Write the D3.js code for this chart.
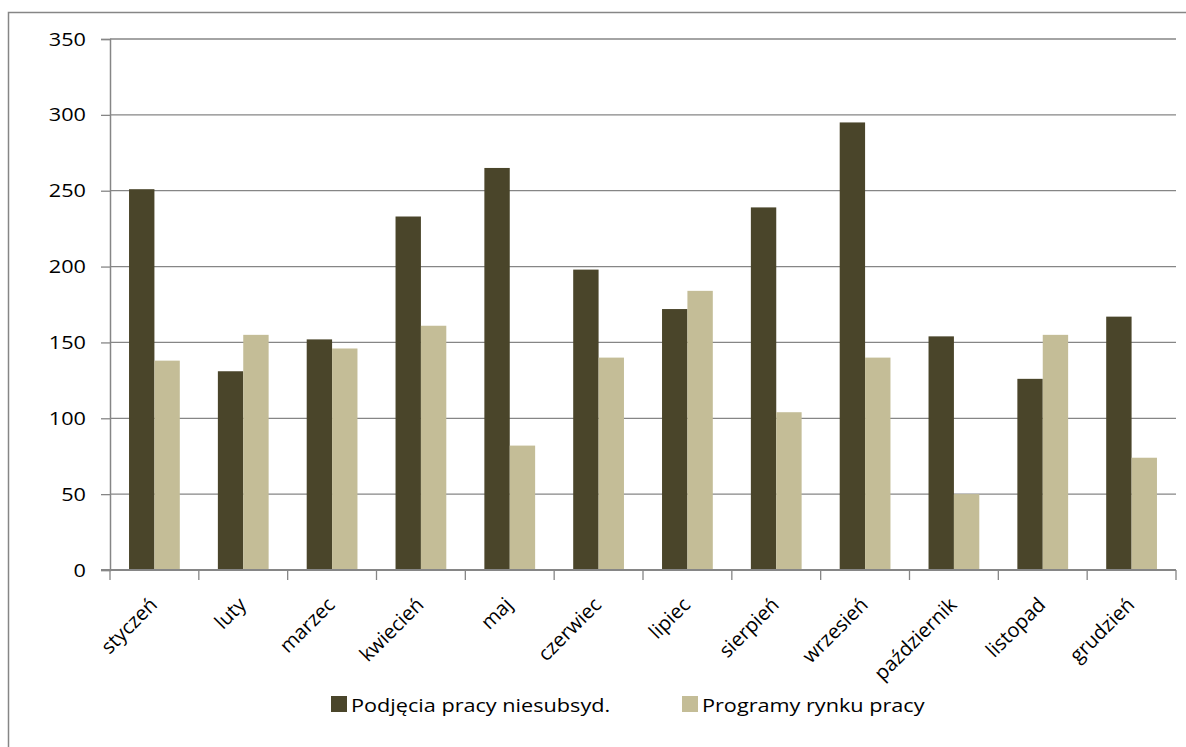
<!DOCTYPE html>
<html>
<head>
<meta charset="utf-8">
<script src="https://cdn.jsdelivr.net/npm/d3@7"></script>
<style>
    body { margin: 0; background: #fff; }
    svg text { font-family: "Open Sans", sans-serif; fill: #000; }
</style>
</head>
<body>
<div id="chart"></div>
<script>
// Monthly values
const months = ['styczeń', 'luty', 'marzec', 'kwiecień', 'maj', 'czerwiec',
    'lipiec', 'sierpień', 'wrzesień', 'październik', 'listopad', 'grudzień'];
const seriesNames = ['Podjęcia pracy niesubsyd.', 'Programy rynku pracy'];
const podjecia = [251, 131, 152, 233, 265, 198, 172, 239, 295, 154, 126, 167];
const programy = [138, 155, 146, 161, 82, 140, 184, 104, 140, 50, 155, 74];
const yTicks = [0, 50, 100, 150, 200, 250, 300, 350];
const colors = ['#4a452a', '#c4bd97'];

const width = 1186;
const height = 747;
const margin = { top: 39, right: 10, bottom: 177, left: 110 };
const gridColor = '#868686';
// the reference text is a little wider than Open Sans
const stretch = 1.14;

const svg = d3.select('#chart')
    .append('svg')
    .attr('width', width)
    .attr('height', height);

// Outer chart border (runs off the right and bottom of the picture)
svg.append('rect')
    .attr('x', 8.5)
    .attr('y', 12.5)
    .attr('width', width)
    .attr('height', height)
    .attr('fill', 'none')
    .attr('stroke', gridColor)
    .attr('stroke-width', 1.5);

const plotW = 1176 - margin.left;
const plotH = 570 - margin.top;

const g = svg.append('g')
    .attr('transform', `translate(${margin.left},${margin.top})`);

const x = d3.scaleBand()
    .domain(months)
    .range([0, plotW]);

// Excel-style gap width of 150%
const x1 = d3.scaleBand()
    .domain(seriesNames)
    .range([0, x.bandwidth()])
    .paddingInner(0)
    .paddingOuter(0.75);

const y = d3.scaleLinear()
    .domain([0, 350])
    .range([plotH, 0]);

// Gridlines
g.selectAll('.grid')
    .data(yTicks.filter(d => d > 0))
    .enter()
    .append('line')
    .attr('class', 'grid')
    .attr('x1', 0)
    .attr('x2', plotW)
    .attr('y1', d => y(d))
    .attr('y2', d => y(d))
    .attr('stroke', gridColor)
    .attr('stroke-width', 1.3);

// Bars
const data = months.map((m, i) => ({ month: m, values: [podjecia[i], programy[i]] }));

const groups = g.selectAll('.month')
    .data(data)
    .enter()
    .append('g')
    .attr('class', 'month')
    .attr('transform', d => `translate(${x(d.month)},0)`);

groups.selectAll('rect')
    .data(d => d.values.map((v, i) => ({ key: seriesNames[i], value: v, i })))
    .enter()
    .append('rect')
    .attr('x', d => x1(d.key))
    .attr('width', x1.bandwidth())
    .attr('y', d => y(d.value))
    .attr('height', d => plotH - y(d.value))
    .attr('fill', d => colors[d.i]);

// Y axis
const yAxis = g.append('g')
    .call(d3.axisLeft(y).tickValues(yTicks).tickSize(9).tickPadding(6));
yAxis.select('.domain').attr('stroke', gridColor).attr('stroke-width', 1.5);
yAxis.selectAll('.tick line').attr('stroke', gridColor).attr('stroke-width', 1.3);
yAxis.selectAll('.tick text')
    .attr('font-size', '19px')
    .attr('x', null)
    .attr('transform', `translate(-24,0) scale(${stretch},1)`);

// X axis: ticks sit on category boundaries
const xAxisG = g.append('g')
    .attr('transform', `translate(0,${plotH})`);
xAxisG.append('line')
    .attr('x1', -9)
    .attr('x2', plotW)
    .attr('stroke', gridColor)
    .attr('stroke-width', 2);
xAxisG.selectAll('.xtick')
    .data(months.concat(['end']))
    .enter()
    .append('line')
    .attr('class', 'xtick')
    .attr('x1', (d, i) => i * x.step())
    .attr('x2', (d, i) => i * x.step())
    .attr('y1', 0)
    .attr('y2', 10)
    .attr('stroke', gridColor)
    .attr('stroke-width', 1.3);

xAxisG.selectAll('.xlabel')
    .data(months)
    .enter()
    .append('text')
    .attr('class', 'xlabel')
    .attr('text-anchor', 'end')
    .attr('font-size', '20px')
    .attr('transform', d => `translate(${x(d) + x.bandwidth() / 2 + 4},${36}) rotate(-45)`)
    .text(d => d);

// Legend
const legend = svg.append('g')
    .attr('transform', 'translate(331,712)');
const legendX = [0, 351];
const items = legend.selectAll('.legend-item')
    .data(seriesNames)
    .enter()
    .append('g')
    .attr('class', 'legend-item')
    .attr('transform', (d, i) => `translate(${legendX[i]},0)`);
items.append('rect')
    .attr('x', 0)
    .attr('y', -16)
    .attr('width', 16)
    .attr('height', 16)
    .attr('fill', (d, i) => colors[i]);
items.append('text')
    .attr('transform', `translate(20,0) scale(${stretch},1)`)
    .attr('font-size', '19px')
    .text(d => d);
</script>
</body>
</html>
